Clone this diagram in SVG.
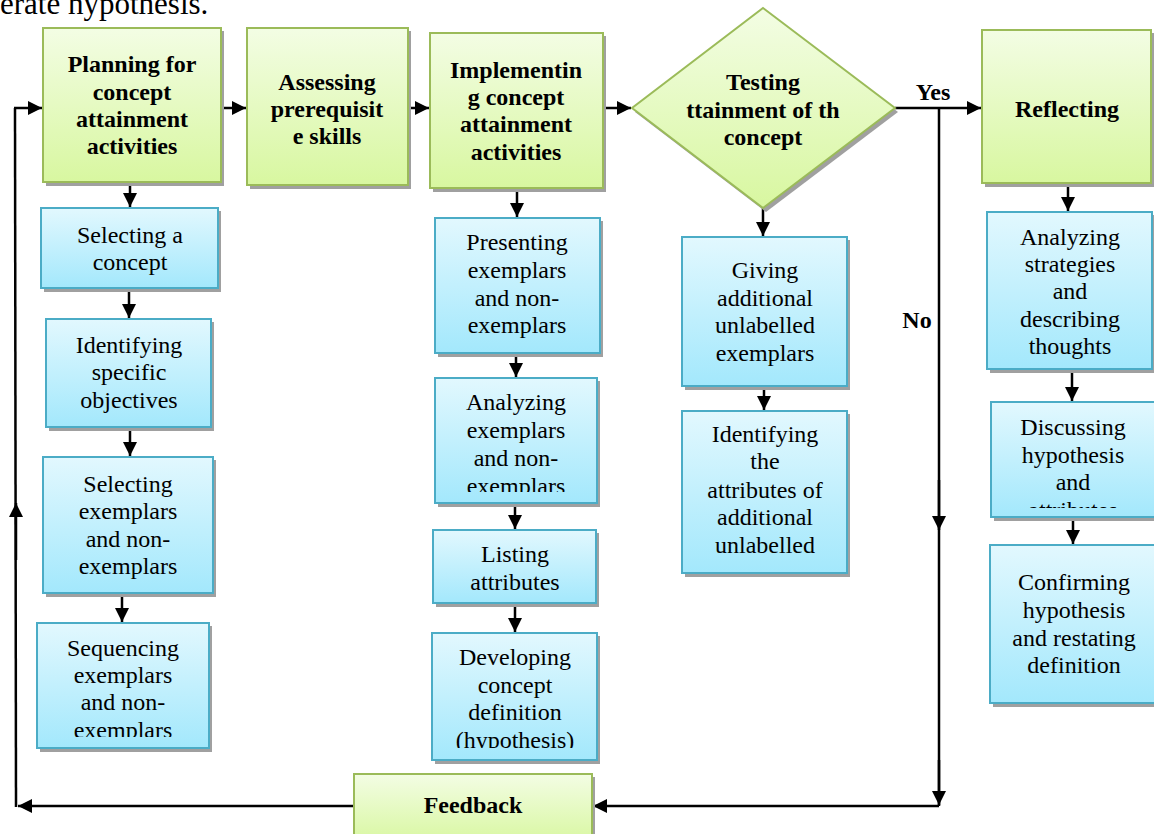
<svg xmlns="http://www.w3.org/2000/svg" width="1154" height="834" viewBox="0 0 1154 834">
<style>
.g{fill:url(#gg);stroke:#9bbb59;stroke-width:2}
.b{fill:url(#bg);stroke:#4bacc6;stroke-width:2}
.sh{fill:#a0a0a0}
.tb{font-family:"Liberation Serif","Times New Roman",serif;font-size:24px;font-weight:bold;fill:#000;text-anchor:middle}
.t{font-family:"Liberation Serif","Times New Roman",serif;font-size:24px;fill:#000;text-anchor:middle}
.c{stroke:#000;stroke-width:2.5;fill:none}
.a{marker-end:url(#ah)}
</style>
<defs>
<linearGradient id="gg" x1="0" y1="0" x2="0" y2="1"><stop offset="0" stop-color="#f3fde4"/><stop offset="1" stop-color="#d8f7a0"/></linearGradient>
<linearGradient id="bg" x1="0" y1="0" x2="0" y2="1"><stop offset="0" stop-color="#e2f8fe"/><stop offset="1" stop-color="#a3e8fc"/></linearGradient>
<marker id="ah" viewBox="0 0 10 10" refX="10" refY="5" markerWidth="15" markerHeight="14" markerUnits="userSpaceOnUse" orient="auto"><path d="M0,0 L10,5 L0,10 z" fill="#000"/></marker>
<clipPath id="c1"><rect x="37" y="623" width="172" height="114"/></clipPath>
<clipPath id="c2"><rect x="435" y="378" width="162" height="114"/></clipPath>
<clipPath id="c3"><rect x="432" y="633" width="165" height="115"/></clipPath>
<clipPath id="c4"><rect x="991" y="402" width="163" height="106"/></clipPath>
</defs>
<rect width="1154" height="834" fill="#fff"/>
<text x="0" y="14" style="font-family:'Liberation Serif','Times New Roman',serif;font-size:31px;fill:#000">erate hypothesis.</text>

<g id="connectors">
<line class="c a" x1="14" y1="108" x2="42" y2="108"/>
<line class="c" x1="15" y1="108" x2="16" y2="807"/>
<line class="c a" x1="16" y1="560" x2="16" y2="503"/>
<line class="c a" x1="221" y1="108" x2="246" y2="108"/>
<line class="c a" x1="408" y1="108" x2="429" y2="108"/>
<line class="c a" x1="603" y1="108" x2="631" y2="108"/>
<line class="c a" x1="895" y1="108" x2="981" y2="108"/>
<line class="c" x1="939" y1="108" x2="939" y2="806"/>
<line class="c a" x1="939" y1="480" x2="939" y2="530"/>
<line class="c a" x1="939" y1="760" x2="939" y2="805"/>
<line class="c a" x1="939" y1="806" x2="593" y2="806"/>
<line class="c a" x1="354" y1="806" x2="18" y2="806"/>
<line class="c a" x1="130" y1="182" x2="130" y2="207"/>
<line class="c a" x1="129" y1="288" x2="129" y2="318"/>
<line class="c a" x1="130" y1="427" x2="130" y2="456"/>
<line class="c a" x1="122" y1="593" x2="122" y2="622"/>
<line class="c a" x1="517" y1="188" x2="517" y2="217"/>
<line class="c a" x1="516" y1="353" x2="516" y2="377"/>
<line class="c a" x1="515" y1="503" x2="515" y2="529"/>
<line class="c a" x1="515" y1="603" x2="515" y2="632"/>
<line class="c a" x1="763" y1="207" x2="763" y2="236"/>
<line class="c a" x1="764" y1="386" x2="764" y2="410"/>
<line class="c a" x1="1068" y1="183" x2="1068" y2="211"/>
<line class="c a" x1="1072" y1="369" x2="1072" y2="401"/>
<line class="c a" x1="1073" y1="517" x2="1073" y2="544"/>
</g>

<g id="planning">
<rect class="sh" x="46" y="31" width="178" height="155"/>
<rect class="g" x="43" y="28" width="178" height="154"/>
<text class="tb" x="132" y="72">Planning for</text>
<text class="tb" x="132" y="100">concept</text>
<text class="tb" x="132" y="127">attainment</text>
<text class="tb" x="132" y="154">activities</text>
</g>
<g id="assessing">
<rect class="sh" x="250" y="31" width="161" height="158"/>
<rect class="g" x="247" y="28" width="161" height="157"/>
<text class="tb" x="327" y="90">Assessing</text>
<text class="tb" x="327" y="117">prerequisit</text>
<text class="tb" x="327" y="144">e skills</text>
</g>
<g id="implementing">
<rect class="sh" x="433" y="36" width="173" height="156"/>
<rect class="g" x="430" y="33" width="173" height="155"/>
<text class="tb" x="516" y="78">Implementin</text>
<text class="tb" x="516" y="105">g concept</text>
<text class="tb" x="516" y="132">attainment</text>
<text class="tb" x="516" y="160">activities</text>
</g>
<g id="testing">
<polygon class="sh" points="766,12 898,112 766,212 635,112"/>
<polygon class="g" points="763,8 895,108 763,208 632,108"/>
<text class="tb" x="763" y="90">Testing</text>
<text class="tb" x="763" y="118">ttainment of th</text>
<text class="tb" x="763" y="145">concept</text>
</g>
<g id="reflecting">
<rect class="sh" x="985" y="33" width="169" height="154"/>
<rect class="g" x="982" y="30" width="169" height="153"/>
<text class="tb" x="1067" y="117">Reflecting</text>
</g>
<g id="feedback">
<rect class="sh" x="357" y="777" width="238" height="70"/>
<rect class="g" x="354" y="774" width="238" height="70"/>
<text class="tb" x="473" y="813">Feedback</text>
</g>
<g id="labels">
<text class="tb" x="933" y="100">Yes</text>
<text class="tb" x="917" y="328">No</text>
</g>

<g id="selecting-concept">
<rect class="sh" x="44" y="211" width="177" height="81"/>
<rect class="b" x="41" y="208" width="177" height="80"/>
<text class="t" x="130" y="243">Selecting a</text>
<text class="t" x="130" y="270">concept</text>
</g>
<g id="identifying-objectives">
<rect class="sh" x="49" y="322" width="165" height="109"/>
<rect class="b" x="46" y="319" width="165" height="108"/>
<text class="t" x="129" y="353">Identifying</text>
<text class="t" x="129" y="380">specific</text>
<text class="t" x="129" y="408">objectives</text>
</g>
<g id="selecting-exemplars">
<rect class="sh" x="46" y="460" width="170" height="137"/>
<rect class="b" x="43" y="457" width="170" height="136"/>
<text class="t" x="128" y="492">Selecting</text>
<text class="t" x="128" y="519">exemplars</text>
<text class="t" x="128" y="547">and non-</text>
<text class="t" x="128" y="574">exemplars</text>
</g>
<g id="sequencing">
<rect class="sh" x="40" y="626" width="172" height="126"/>
<rect class="b" x="37" y="623" width="172" height="125"/>
<g clip-path="url(#c1)">
<text class="t" x="123" y="656">Sequencing</text>
<text class="t" x="123" y="683">exemplars</text>
<text class="t" x="123" y="710">and non-</text>
<text class="t" x="123" y="738">exemplars</text>
</g>
</g>
<g id="presenting">
<rect class="sh" x="438" y="221" width="165" height="136"/>
<rect class="b" x="435" y="218" width="165" height="135"/>
<text class="t" x="517" y="250">Presenting</text>
<text class="t" x="517" y="278">exemplars</text>
<text class="t" x="517" y="306">and non-</text>
<text class="t" x="517" y="333">exemplars</text>
</g>
<g id="analyzing-exemplars">
<rect class="sh" x="438" y="381" width="162" height="126"/>
<rect class="b" x="435" y="378" width="162" height="125"/>
<g clip-path="url(#c2)">
<text class="t" x="516" y="410">Analyzing</text>
<text class="t" x="516" y="438">exemplars</text>
<text class="t" x="516" y="466">and non-</text>
<text class="t" x="516" y="494">exemplars</text>
</g>
</g>
<g id="listing">
<rect class="sh" x="436" y="533" width="163" height="74"/>
<rect class="b" x="433" y="530" width="163" height="73"/>
<text class="t" x="515" y="562">Listing</text>
<text class="t" x="515" y="590">attributes</text>
</g>
<g id="developing">
<rect class="sh" x="435" y="636" width="165" height="128"/>
<rect class="b" x="432" y="633" width="165" height="127"/>
<g clip-path="url(#c3)">
<text class="t" x="515" y="665">Developing</text>
<text class="t" x="515" y="693">concept</text>
<text class="t" x="515" y="720">definition</text>
<text class="t" x="515" y="748">(hypothesis)</text>
</g>
</g>
<g id="giving">
<rect class="sh" x="685" y="240" width="165" height="150"/>
<rect class="b" x="682" y="237" width="165" height="149"/>
<text class="t" x="765" y="278">Giving</text>
<text class="t" x="765" y="306">additional</text>
<text class="t" x="765" y="333">unlabelled</text>
<text class="t" x="765" y="361">exemplars</text>
</g>
<g id="identifying-attributes">
<rect class="sh" x="685" y="414" width="165" height="163"/>
<rect class="b" x="682" y="411" width="165" height="162"/>
<text class="t" x="765" y="442">Identifying</text>
<text class="t" x="765" y="469">the</text>
<text class="t" x="765" y="498">attributes of</text>
<text class="t" x="765" y="525">additional</text>
<text class="t" x="765" y="553">unlabelled</text>
</g>
<g id="analyzing-strategies">
<rect class="sh" x="990" y="215" width="165" height="158"/>
<rect class="b" x="987" y="212" width="165" height="157"/>
<text class="t" x="1070" y="245">Analyzing</text>
<text class="t" x="1070" y="272">strategies</text>
<text class="t" x="1070" y="299">and</text>
<text class="t" x="1070" y="327">describing</text>
<text class="t" x="1070" y="354">thoughts</text>
</g>
<g id="discussing">
<rect class="sh" x="994" y="405" width="170" height="116"/>
<rect class="b" x="991" y="402" width="170" height="115"/>
<g clip-path="url(#c4)">
<text class="t" x="1073" y="435">Discussing</text>
<text class="t" x="1073" y="463">hypothesis</text>
<text class="t" x="1073" y="490">and</text>
<text class="t" x="1073" y="518">attributes</text>
</g>
</g>
<g id="confirming">
<rect class="sh" x="993" y="548" width="170" height="159"/>
<rect class="b" x="990" y="545" width="170" height="158"/>
<text class="t" x="1074" y="590">Confirming</text>
<text class="t" x="1074" y="618">hypothesis</text>
<text class="t" x="1074" y="646">and restating</text>
<text class="t" x="1074" y="673">definition</text>
</g>
</svg>
